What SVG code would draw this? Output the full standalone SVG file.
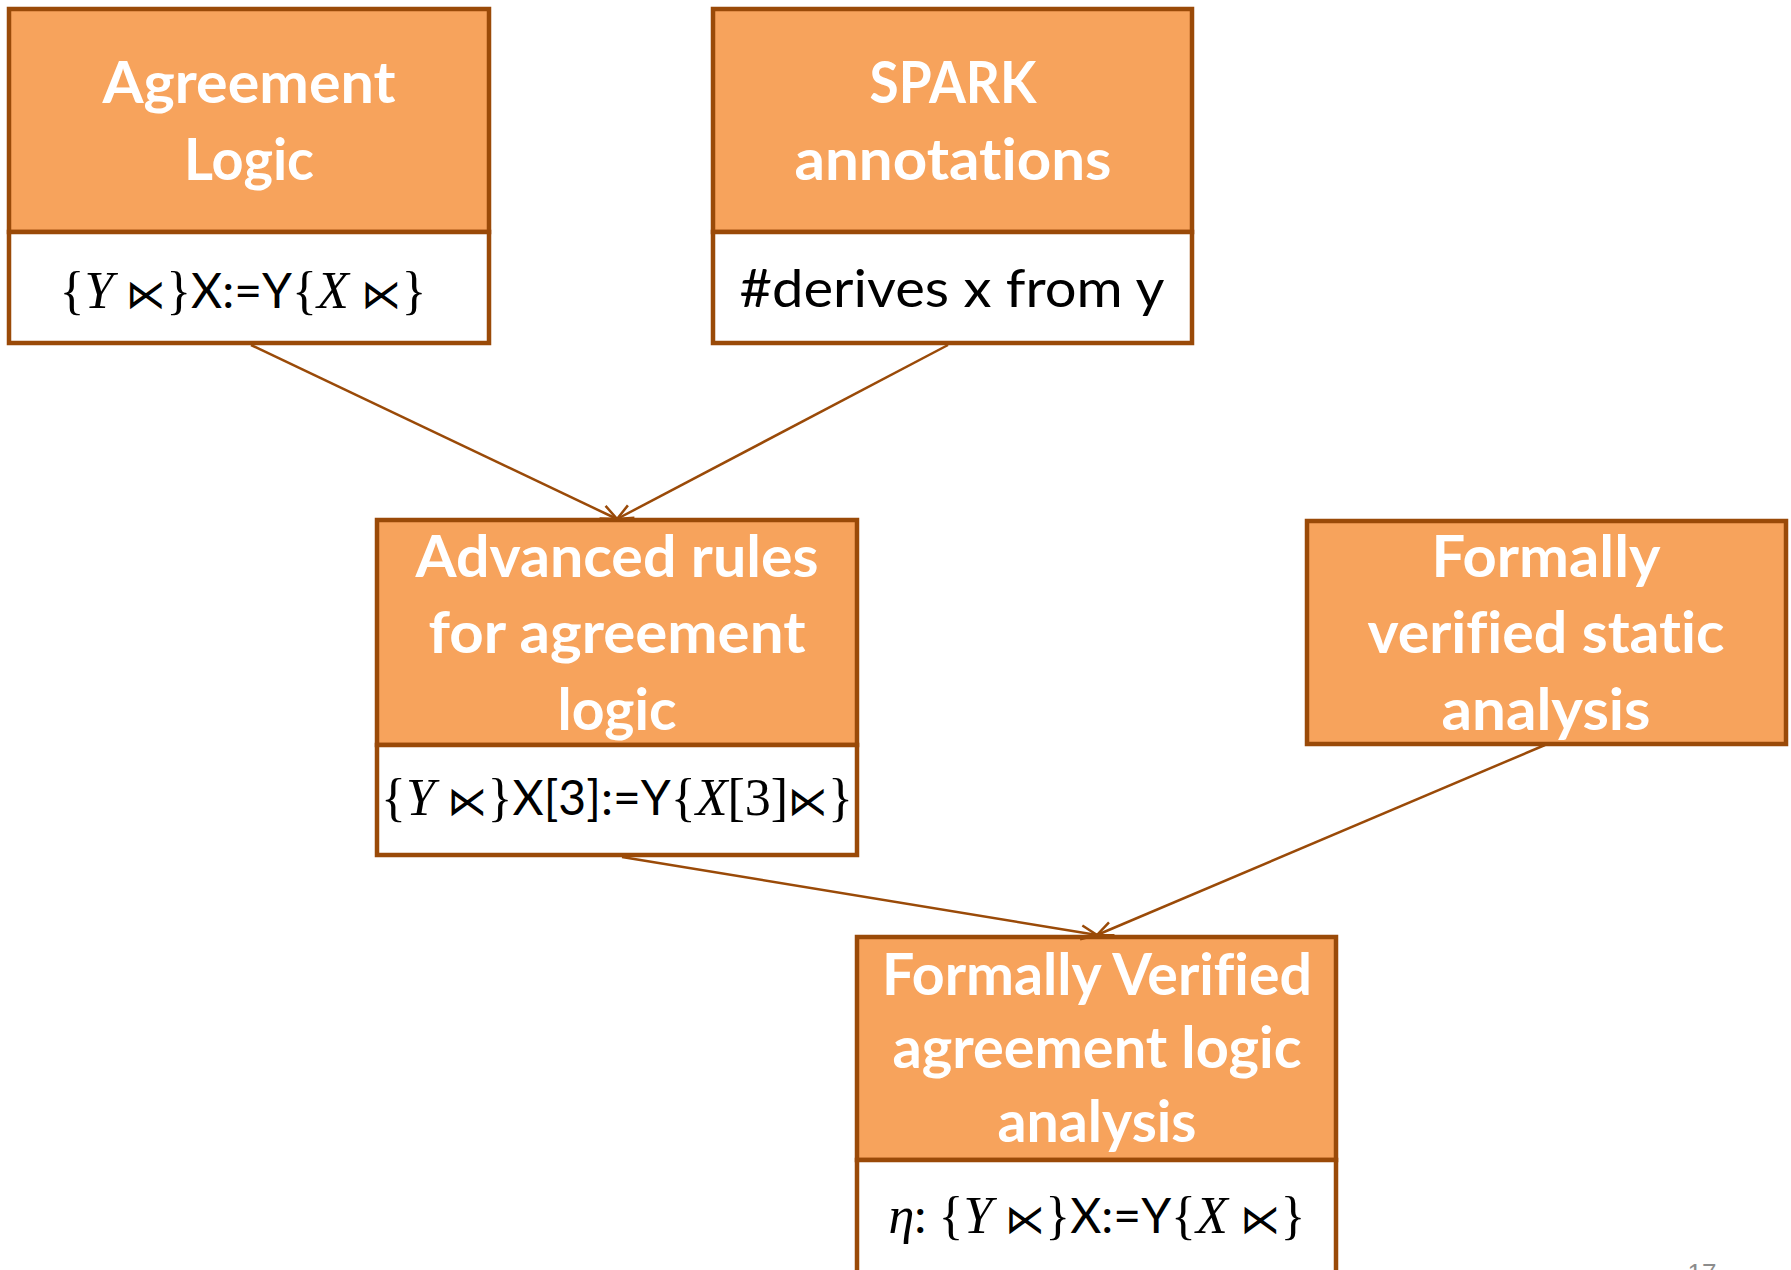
<svg xmlns="http://www.w3.org/2000/svg" width="1791" height="1270" viewBox="0 0 1791 1270">
  <style>
    .head { fill: #F7A35C; stroke: #9A4A08; stroke-width: 4.5; }
    .body { fill: #FFFFFF; stroke: #9A4A08; stroke-width: 4.5; }
    text { font-variant-ligatures: none; }
    .title { font-family: Lato, "Open Sans", sans-serif; font-weight: bold; font-size: 58px; fill: #FFFFFF; text-anchor: middle; }
    .sub { font-family: Lato, "Open Sans", sans-serif; font-size: 52px; fill: #000000; text-anchor: middle; }
    .math { font-family: Lato, "Open Sans", sans-serif; font-size: 48px; fill: #000000; text-anchor: middle; }
    .m { font-family: "Liberation Serif", serif; font-size: 52px; }
    .mi { font-family: "Liberation Serif", serif; font-style: italic; font-size: 52px; }
    .op { font-family: "DejaVu Sans", sans-serif; font-size: 40px; }
    .edge { fill: none; stroke: #9A4A08; stroke-width: 2.5; }
    .pg { font-family: "Liberation Sans", sans-serif; font-size: 26px; fill: #8C8C8C; text-anchor: middle; }
  </style>
  <defs>
    <marker id="arrow" markerUnits="userSpaceOnUse" markerWidth="24" markerHeight="24" refX="18" refY="9" orient="auto" viewBox="0 0 24 18">
      <path d="M2,2 L18,9 L2,16" fill="none" stroke="#9A4A08" stroke-width="2.5"/>
    </marker>
  </defs>

  <!-- Agreement Logic -->
  <g id="agreement-logic">
    <rect class="head" x="9" y="9" width="480" height="223"/>
    <rect class="body" x="9" y="232" width="480" height="111"/>
    <text class="title" x="249" y="103" textLength="293" lengthAdjust="spacingAndGlyphs">Agreement</text>
    <text class="title" x="249" y="180" textLength="130" lengthAdjust="spacingAndGlyphs">Logic</text>
    <text class="math" x="243" y="308"><tspan class="m">{</tspan><tspan class="mi">Y</tspan><tspan class="op"> ⋉</tspan><tspan class="m">}</tspan>X:=Y<tspan class="m">{</tspan><tspan class="mi">X</tspan><tspan class="op"> ⋉</tspan><tspan class="m">}</tspan></text>
  </g>

  <!-- SPARK annotations -->
  <g id="spark-annotations">
    <rect class="head" x="713" y="9" width="479" height="223"/>
    <rect class="body" x="713" y="232" width="479" height="111"/>
    <text class="title" x="953" y="103" textLength="167" lengthAdjust="spacingAndGlyphs">SPARK</text>
    <text class="title" x="953" y="180" textLength="317" lengthAdjust="spacingAndGlyphs">annotations</text>
    <text class="sub" x="952" y="307" textLength="425" lengthAdjust="spacingAndGlyphs">#derives x from y</text>
  </g>

  <!-- Advanced rules for agreement logic -->
  <g id="advanced-rules">
    <rect class="head" x="377" y="520" width="480" height="225"/>
    <rect class="body" x="377" y="745" width="480" height="110"/>
    <text class="title" x="617" y="577" textLength="403" lengthAdjust="spacingAndGlyphs">Advanced rules</text>
    <text class="title" x="617" y="653" textLength="377" lengthAdjust="spacingAndGlyphs">for agreement</text>
    <text class="title" x="617" y="730" textLength="119" lengthAdjust="spacingAndGlyphs">logic</text>
    <text class="math" x="617" y="815"><tspan class="m">{</tspan><tspan class="mi">Y</tspan><tspan class="op"> ⋉</tspan><tspan class="m">}</tspan>X[3]:=Y<tspan class="m">{</tspan><tspan class="mi">X</tspan><tspan class="m">[3]</tspan><tspan class="op">⋉</tspan><tspan class="m">}</tspan></text>
  </g>

  <!-- Formally verified static analysis -->
  <g id="static-analysis">
    <rect class="head" x="1307" y="521" width="479" height="223"/>
    <text class="title" x="1546" y="577" textLength="229" lengthAdjust="spacingAndGlyphs">Formally</text>
    <text class="title" x="1546" y="653" textLength="357" lengthAdjust="spacingAndGlyphs">verified static</text>
    <text class="title" x="1546" y="730" textLength="209" lengthAdjust="spacingAndGlyphs">analysis</text>
  </g>

  <!-- Formally Verified agreement logic analysis -->
  <g id="verified-analysis">
    <rect class="head" x="857" y="937" width="479" height="223"/>
    <rect class="body" x="857" y="1160" width="479" height="120"/>
    <text class="title" x="1097" y="995" textLength="430" lengthAdjust="spacingAndGlyphs">Formally Verified</text>
    <text class="title" x="1097" y="1068" textLength="409" lengthAdjust="spacingAndGlyphs">agreement logic</text>
    <text class="title" x="1097" y="1142" textLength="199" lengthAdjust="spacingAndGlyphs">analysis</text>
    <text class="math" x="1097" y="1233"><tspan class="mi">η</tspan>: <tspan class="m">{</tspan><tspan class="mi">Y</tspan><tspan class="op"> ⋉</tspan><tspan class="m">}</tspan>X:=Y<tspan class="m">{</tspan><tspan class="mi">X</tspan><tspan class="op"> ⋉</tspan><tspan class="m">}</tspan></text>
  </g>

  <!-- Connectors -->
  <g id="connectors">
    <line class="edge" x1="251" y1="345" x2="617" y2="519" marker-end="url(#arrow)"/>
    <line class="edge" x1="948" y1="345" x2="617" y2="519" marker-end="url(#arrow)"/>
    <line class="edge" x1="622" y1="857" x2="1097" y2="935" marker-end="url(#arrow)"/>
    <line class="edge" x1="1545" y1="745" x2="1097" y2="935" marker-end="url(#arrow)"/>
  </g>

  <text class="pg" x="1702" y="1282">17</text>
</svg>
